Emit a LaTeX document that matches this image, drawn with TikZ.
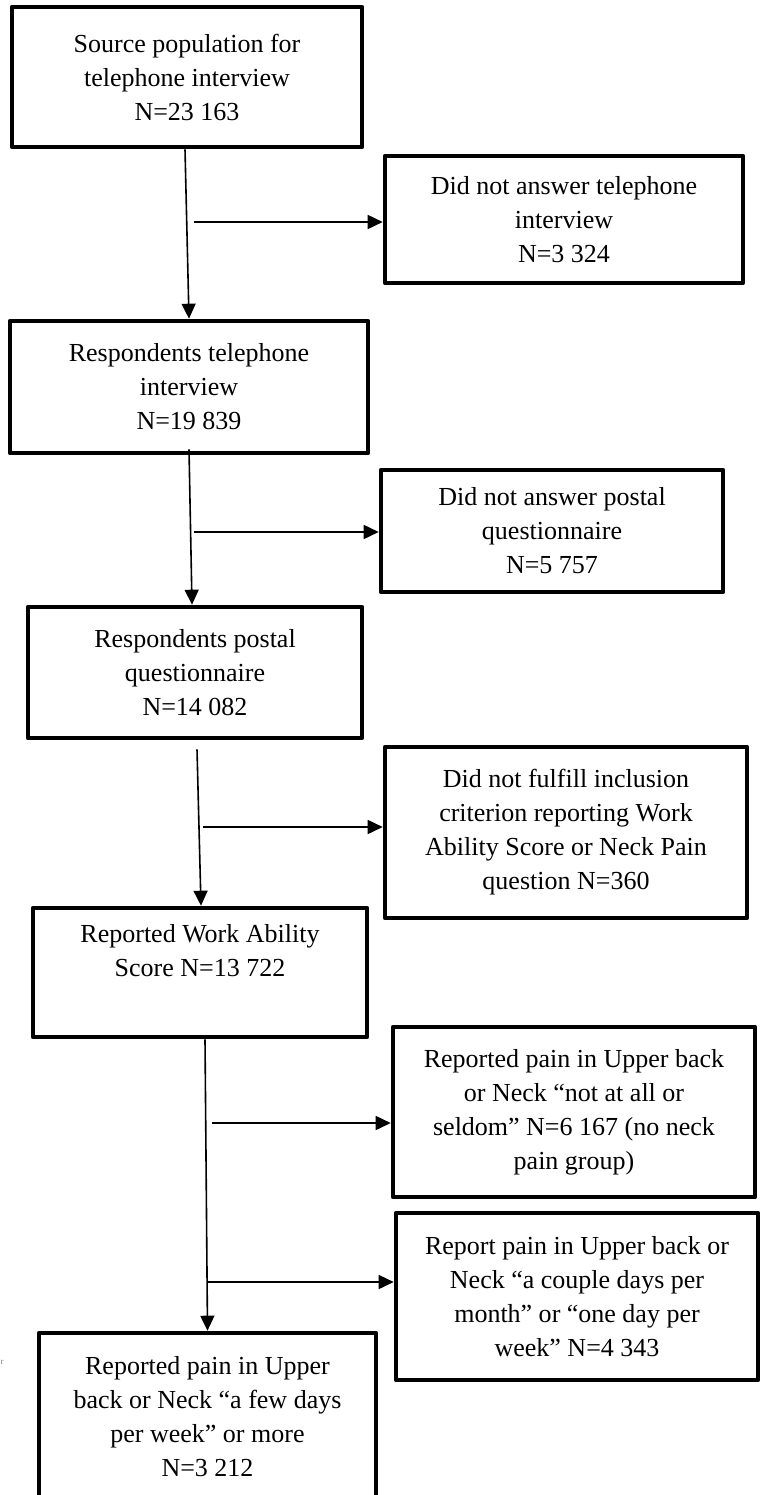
\documentclass[tikz,border=0pt]{standalone}
\usepackage{fontspec}
\setmainfont{Liberation Serif}
\usetikzlibrary{arrows.meta,calc}
\begin{document}
\begin{tikzpicture}[x=1pt,y=-1pt,
  box/.style={draw,line width=4.6pt,line join=round,inner sep=0pt,align=center,
    font=\fontsize{26}{34}\selectfont},
  arr/.style={line width=1.6pt,-{Triangle[length=15pt,width=14pt]}}]
\useasboundingbox (0,0) rectangle (764,1495);
\clip (0,0) rectangle (764,1495);
% left column
\node[box,minimum width=350pt,minimum height=140pt] (b1) at (187,77)
  {Source population for\\telephone interview\\N=23 163};
\node[box,minimum width=358pt,minimum height=132pt] (b2) at (189,387)
  {Respondents telephone\\interview\\N=19 839};
\node[box,minimum width=334pt,minimum height=131pt] (b3) at (195,672.5)
  {Respondents postal\\questionnaire\\N=14 082};
\node[box,minimum width=334pt,minimum height=129pt] (wa) at (200,972.5)
  {Reported Work Ability\\Score N=13 722\\\strut};
\node[box,minimum width=337pt,minimum height=168pt] (bb) at (207.5,1417)
  {Reported pain in Upper\\back or Neck “a few days\\per week” or more\\N=3 212};
% right column
\node[box,minimum width=358pt,minimum height=127pt] (r1) at (564,219.5)
  {Did not answer telephone\\interview\\N=3 324};
\node[box,minimum width=342pt,minimum height=122pt] (r2) at (552,531)
  {Did not answer postal\\questionnaire\\N=5 757};
\node[box,minimum width=362pt,minimum height=171pt] (r3) at (566,832.5)
  {Did not fulfill inclusion\\criterion reporting Work\\Ability Score or Neck Pain\\question N=360};
\node[box,minimum width=362pt,minimum height=170pt] (r4) at (574,1112)
  {Reported pain in Upper back\\or Neck “not at all or\\seldom” N=6 167 (no neck\\pain group)};
\node[box,minimum width=362pt,minimum height=167pt] (r5) at (577,1296.5)
  {Report pain in Upper back or\\Neck “a couple days per\\month” or “one day per\\week” N=4 343};
% stray mark at the left edge
\node[text=gray,inner sep=0pt,font=\fontsize{9}{9}\selectfont] (mk) at (2,1362) {r};
% main flow
\draw[arr] ([xshift=-2pt]b1.south) -- (b2.north);
\draw[arr] ([yshift=6pt]b2.south) -- ([xshift=-3pt]b3.north);
\draw[arr] ([xshift=2pt,yshift=-9pt]b3.south) -- ([xshift=1pt]wa.north);
\draw[arr] ([xshift=5pt]wa.south) -- (bb.north);
% exclusions
\coordinate (s1) at (194,222);
\coordinate (s2) at (194,532);
\coordinate (s3) at (203,827);
\coordinate (s4) at (212,1123);
\coordinate (s5) at (207,1282);
\draw[arr] (s1) -- (r1.west |- s1);
\draw[arr] (s2) -- (r2.west |- s2);
\draw[arr] (s3) -- (r3.west |- s3);
\draw[arr] (s4) -- (r4.west |- s4);
\draw[arr] (s5) -- (r5.west |- s5);
\end{tikzpicture}
\end{document}
